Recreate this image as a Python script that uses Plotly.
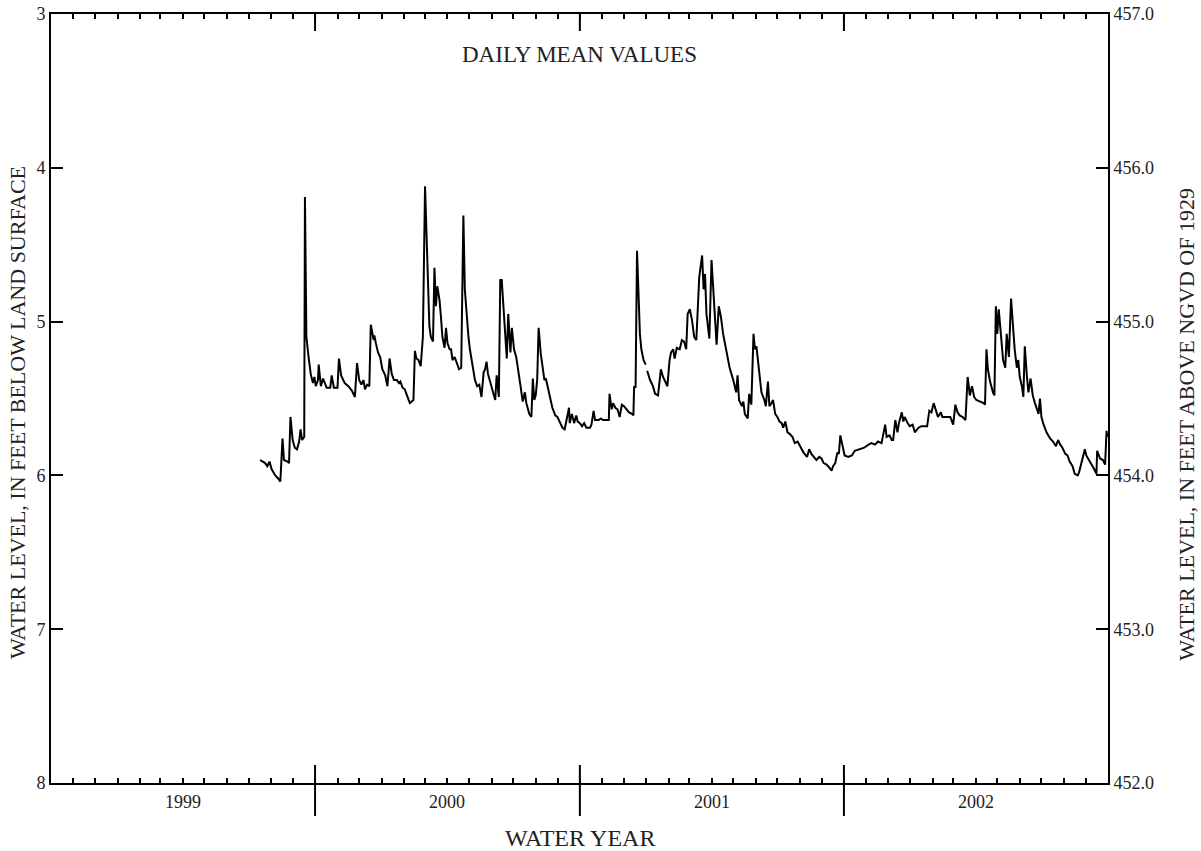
import plotly.graph_objects as go
import pandas as pd

# water years shown on the x axis
water_years = [1999, 2000, 2001, 2002]

# daily mean water level, days counted from 1998-10-01 (start of WY 1999)
days = [
    289, 296, 299, 302, 305, 310, 314, 317, 320, 322,
    327, 329, 331, 334, 337, 340, 343, 345, 347, 350,
    351, 353, 356, 359, 362, 364, 366, 369, 370, 373,
    376, 378, 381, 386, 388, 391, 396, 398, 401, 406,
    411, 416, 420, 423, 426, 429, 432, 434, 437, 440,
    442, 446, 447, 449, 452, 455, 458, 462, 465, 468,
    471, 474, 478, 481, 483, 486, 489, 492, 496, 501,
    503, 505, 508, 511, 514, 517, 521, 523, 525, 528,
    530, 532, 534, 537, 539, 541, 544, 546, 548, 551,
    553, 555, 558, 562, 564, 567, 570, 572, 575, 577,
    579, 583, 586, 589, 592, 595, 598, 600, 602, 604,
    608, 611, 614, 616, 619, 621, 623, 625, 628, 630,
    632, 634, 635, 637, 640, 643, 646, 649, 652, 655,
    657, 661, 664, 666, 668, 670, 672, 674, 677, 680,
    682, 684, 687, 690, 693, 697, 700, 703, 707, 710,
    714, 716, 717, 720, 723, 726, 728, 731, 734, 737,
    740, 745, 747, 750, 752, 757, 760, 763, 771, 772,
    775, 777, 780, 783, 786, 789, 792, 796, 799, 803,
    805, 806, 808, 810, 812, 814, 816, 819, 822, 823,
    824, 828, 832, 835, 839, 843, 846, 852, 855, 857,
    860, 862, 865, 869, 872, 875, 878, 880, 883, 886,
    889, 892, 896, 900, 902, 904, 906, 910, 913, 915,
    918, 920, 923, 926, 929, 934, 938, 943, 947, 949,
    951, 955, 957, 959, 963, 965, 968, 971, 973, 975,
    978, 982, 986, 988, 991, 993, 996, 998, 1001, 1004,
    1007, 1010, 1012, 1015, 1018, 1021, 1025, 1028, 1032, 1035,
    1040, 1045, 1048, 1051, 1055, 1058, 1062, 1065, 1068, 1072,
    1076, 1079, 1081, 1084, 1087, 1089, 1091, 1093, 1097, 1102,
    1107, 1111, 1118, 1124, 1130, 1134, 1139, 1143, 1148, 1153,
    1155, 1159, 1162, 1164, 1167, 1170, 1172, 1176, 1178, 1180,
    1184, 1187, 1191, 1194, 1199, 1203, 1211, 1214, 1217, 1220,
    1224, 1226, 1230, 1232, 1238, 1243, 1247, 1250, 1253, 1256,
    1260, 1264, 1267, 1270, 1273, 1276, 1279, 1284, 1289, 1291,
    1293, 1295, 1298, 1302, 1304, 1306, 1308, 1310, 1312, 1314,
    1316, 1319, 1321, 1324, 1327, 1329, 1332, 1335, 1337, 1339,
    1342, 1344, 1346, 1349, 1351, 1354, 1357, 1360, 1362, 1365,
    1367, 1369, 1372, 1376, 1381, 1385, 1389, 1392, 1395, 1398,
    1402, 1405, 1408, 1412, 1415, 1419, 1421, 1425, 1427, 1429,
    1431, 1435, 1438, 1442, 1445, 1446, 1450, 1454, 1457, 1459, 1460,
]

# feet below land surface (None = missing record)
level_bls = [
    5.90, 5.92, 5.94, 5.91, 5.96, 6.00, 6.02, 6.04, 5.76, 5.90,
    5.91, 5.92, 5.62, 5.77, 5.82, 5.83, 5.78, 5.70, 5.77, 5.75,
    4.19, 5.10, 5.23, 5.34, 5.40, 5.36, 5.42, 5.38, 5.28, 5.42,
    5.37, 5.40, 5.43, 5.43, 5.35, 5.43, 5.43, 5.24, 5.35, 5.40,
    5.42, 5.45, 5.49, 5.27, 5.38, 5.41, 5.38, 5.44, 5.41, 5.42,
    5.02, 5.12, 5.09, 5.14, 5.20, 5.23, 5.31, 5.35, 5.42, 5.24,
    5.34, 5.38, 5.38, 5.40, 5.39, 5.43, 5.44, 5.48, 5.53, 5.51,
    5.19, 5.24, 5.25, 5.29, 5.10, 4.12, 4.75, 5.03, 5.10, 5.13,
    4.65, 4.90, 4.77, 4.86, 4.97, 5.10, 5.17, 5.04, 5.14, 5.18,
    5.18, 5.25, 5.23, 5.28, 5.31, 5.30, 4.31, 4.79, 4.99, 5.10,
    5.18, 5.29, 5.38, 5.42, 5.41, 5.49, 5.33, 5.31, 5.26, 5.34,
    5.40, 5.46, 5.51, 5.35, 5.49, 4.73, 4.73, 4.88, 5.12, 5.24,
    4.95, 5.18, 5.20, 5.04, 5.18, 5.23, 5.34, 5.42, 5.52, 5.46,
    5.53, 5.60, 5.62, 5.37, 5.51, 5.48, 5.38, 5.04, 5.21, 5.33,
    5.38, 5.37, 5.44, 5.51, 5.56, 5.61, 5.62, 5.65, 5.69, 5.70,
    5.60, 5.56, 5.66, 5.60, 5.66, 5.61, 5.65, 5.66, 5.68, 5.66,
    5.69, 5.69, 5.67, 5.58, 5.64, 5.64, 5.63, 5.64, 5.64, 5.47,
    5.57, 5.53, 5.56, 5.57, 5.62, 5.54, 5.55, 5.57, 5.59, 5.60,
    5.61, 5.42, 5.43, 4.54, 4.82, 5.08, 5.18, 5.25, 5.28, None,
    5.32, 5.38, 5.42, 5.47, 5.48, 5.31, 5.36, 5.42, 5.25, 5.20,
    5.18, 5.24, 5.17, 5.18, 5.12, 5.13, 5.18, 4.95, 4.92, 4.99,
    5.10, 5.12, 4.71, 4.57, 4.79, 4.69, 4.95, 5.11, 4.60, 4.77,
    5.03, 5.15, 4.90, 4.97, 5.08, 5.21, 5.30, 5.38, 5.46, 5.35,
    5.51, 5.55, 5.52, 5.60, 5.63, 5.47, 5.54, 5.08, 5.18, 5.16,
    5.31, 5.46, 5.51, 5.55, 5.39, 5.55, 5.53, 5.51, 5.60, 5.62,
    5.65, 5.66, 5.69, 5.65, 5.72, 5.73, 5.75, 5.79, 5.78, 5.81,
    5.85, 5.88, 5.83, 5.86, 5.88, 5.90, 5.88, 5.89, 5.92, 5.93,
    5.95, 5.97, 5.94, 5.92, 5.85, 5.86, 5.74, 5.79, 5.87, 5.88,
    5.87, 5.84, 5.83, 5.82, 5.80, 5.79, 5.80, 5.78, 5.79, 5.67,
    5.75, 5.74, 5.77, 5.77, 5.64, 5.72, 5.66, 5.59, 5.65, 5.62,
    5.66, 5.68, 5.67, 5.72, 5.69, 5.68, 5.68, 5.58, 5.59, 5.53,
    5.59, 5.62, 5.59, 5.62, 5.62, 5.62, 5.67, 5.54, 5.59, 5.61,
    5.62, 5.64, 5.36, 5.48, 5.42, 5.49, 5.51, 5.52, 5.53, 5.54,
    5.18, 5.31, 5.39, 5.46, 5.48, 4.90, 5.08, 4.92, 5.01, 5.14,
    5.25, 5.30, 5.08, 5.23, 4.85, 5.01, 5.18, 5.30, 5.25, 5.36,
    5.42, 5.49, 5.16, 5.36, 5.46, 5.37, 5.48, 5.53, 5.56, 5.60,
    5.50, 5.62, 5.67, 5.72, 5.76, 5.78, 5.81, 5.77, 5.80, 5.82,
    5.86, 5.87, 5.91, 5.94, 5.99, 6.00, 5.98, 5.91, 5.88, 5.83,
    5.87, 5.90, 5.93, 5.96, 5.99, 5.84, 5.89, 5.90, 5.93, 5.71, 5.75,
]

left_ticks = [3, 4, 5, 6, 7, 8]
right_ticks = [452.0, 453.0, 454.0, 455.0, 456.0, 457.0]
land_surface = 460.0  # 3 ft below land surface = 457.0 ft NGVD

FONT = "Liberation Serif"
TXT = "#222"

start = pd.Timestamp(f"{water_years[0] - 1}-10-01")
end = pd.Timestamp(f"{water_years[-1]}-10-01")
dates = [start + pd.Timedelta(days=d) for d in days]
months = pd.date_range(start, end, freq="MS")
year_bounds = [pd.Timestamp(f"{y - 1}-10-01") for y in water_years[1:]]

fig = go.Figure()
fig.add_trace(go.Scatter(x=dates, y=level_bls, mode="lines",
                         line=dict(color="black", width=2),
                         connectgaps=False, showlegend=False))
# same record in NGVD so the right-hand axis is drawn
fig.add_trace(go.Scatter(x=dates,
                         y=[None if v is None else land_surface - v for v in level_bls],
                         yaxis="y2", mode="lines", line=dict(width=0),
                         opacity=0, hoverinfo="skip", showlegend=False))

plot_h = 769
plot_w = 1057
for b in year_bounds:
    fig.add_shape(type="line", xref="x", yref="paper", x0=b, x1=b,
                  y0=-33 / plot_h, y1=18 / plot_h,
                  line=dict(color="black", width=2))
    fig.add_shape(type="line", xref="x", yref="paper", x0=b, x1=b,
                  y0=1, y1=1 - 17 / plot_h,
                  line=dict(color="black", width=2))

for y in water_years:
    fig.add_annotation(x=pd.Timestamp(f"{y}-04-01"), y=-19 / plot_h,
                       xref="x", yref="paper", text=str(y), showarrow=False,
                       yanchor="middle", font=dict(family=FONT, size=18, color=TXT))

fig.add_annotation(x=0.5, y=-55 / plot_h, xref="paper", yref="paper",
                   text="WATER YEAR", showarrow=False, yanchor="middle",
                   font=dict(family=FONT, size=24, color=TXT))
fig.add_annotation(x=0.5, y=1 - 41 / plot_h, xref="paper", yref="paper",
                   text="DAILY MEAN VALUES", showarrow=False, yanchor="middle",
                   font=dict(family=FONT, size=23, color=TXT))
fig.add_annotation(x=-34 / plot_w, y=0.481, xref="paper", yref="paper",
                   text="WATER LEVEL, IN FEET BELOW LAND SURFACE", textangle=-90,
                   showarrow=False, xanchor="center", yanchor="middle",
                   font=dict(family=FONT, size=22, color=TXT))
fig.add_annotation(x=(1187 - 51) / plot_w, y=0.466, xref="paper", yref="paper",
                   text="WATER LEVEL, IN FEET ABOVE NGVD OF 1929", textangle=-90,
                   showarrow=False, xanchor="center", yanchor="middle",
                   font=dict(family=FONT, size=22, color=TXT))

fig.update_layout(
    width=1201, height=851,
    margin=dict(l=51, r=93, t=14, b=68),
    plot_bgcolor="white", paper_bgcolor="white",
    font=dict(family=FONT, color=TXT),
    xaxis=dict(type="date", range=[start, end], tickvals=months,
               showticklabels=False, ticks="inside", ticklen=5, tickwidth=2,
               tickcolor="black", showline=True, linewidth=2, linecolor="black",
               mirror="ticks", showgrid=False, zeroline=False, automargin=False),
    yaxis=dict(range=[8, 3], tickvals=left_ticks, ticks="inside", ticklen=12,
               tickwidth=2, tickcolor="black", showline=True, linewidth=2,
               linecolor="black", showgrid=False, zeroline=False, automargin=False,
               ticklabeloverflow="allow",
               tickfont=dict(family=FONT, size=18, color=TXT)),
    yaxis2=dict(range=[452, 457], overlaying="y", side="right",
                tickvals=right_ticks, ticktext=[f"{v:.1f}" for v in right_ticks],
                ticks="inside", ticklen=12, tickwidth=2, tickcolor="black",
                showline=True, linewidth=2, linecolor="black", showgrid=False,
                zeroline=False, automargin=False, ticklabeloverflow="allow",
                tickfont=dict(family=FONT, size=18, color=TXT)),
)

# put the figure flush with the page corner, no toolbar
fig.write_html("out.html", config={"displayModeBar": False},
               post_script="document.body.style.margin='0';")
